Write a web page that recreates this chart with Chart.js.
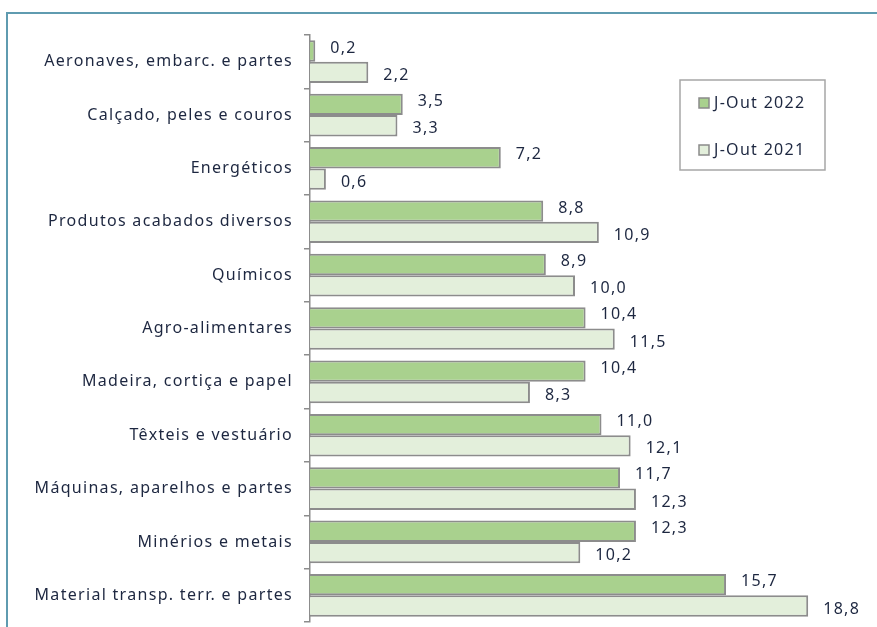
<!DOCTYPE html>
<html>
<head>
<meta charset="utf-8">
<script src="https://cdn.jsdelivr.net/npm/chart.js@4"></script>
<style>
  html, body { margin: 0; padding: 0; background: #fff; }
  #wrap { width: 877px; height: 627px; position: relative; }
</style>
</head>
<body>
<div id="wrap"><canvas id="chart" width="877" height="627"></canvas></div>
<script>
const categories = [
  'Aeronaves, embarc. e partes',
  'Calçado, peles e couros',
  'Energéticos',
  'Produtos acabados diversos',
  'Químicos',
  'Agro-alimentares',
  'Madeira, cortiça e papel',
  'Têxteis e vestuário',
  'Máquinas, aparelhos e partes',
  'Minérios e metais',
  'Material transp. terr. e partes'
];
const series2022 = [0.2, 3.5, 7.2, 8.8, 8.9, 10.4, 10.4, 11.0, 11.7, 12.3, 15.7];
const series2021 = [2.2, 3.3, 0.6, 10.9, 10.0, 11.5, 8.3, 12.1, 12.3, 10.2, 18.8];
const seriesNames = ['J-Out 2022', 'J-Out 2021'];

const FONT = '"Noto Sans", sans-serif';
const TEXT = '#1d2740';
const SPACING = '1.3px';

// frame + value labels + legend box
const extras = {
  id: 'extras',
  beforeUpdate(chart) {
    chart.ctx.letterSpacing = SPACING;
  },
  beforeDraw(chart) {
    const c = chart.ctx;
    c.letterSpacing = SPACING;
    c.save();
    c.strokeStyle = '#5f9bb0';
    c.lineWidth = 2;
    c.strokeRect(7, 13, 900, 640);
    c.restore();
  },
  afterDatasetsDraw(chart) {
    const c = chart.ctx;
    c.save();
    c.font = '16px ' + FONT;
    c.fillStyle = TEXT;
    c.textAlign = 'left';
    c.textBaseline = 'middle';
    chart.data.datasets.forEach((ds, i) => {
      chart.getDatasetMeta(i).data.forEach((bar, j) => {
        const txt = ds.data[j].toFixed(1).replace('.', ',');
        c.fillText(txt, bar.x + 15, bar.y + (i === 0 ? -3 : 3));
      });
    });

    // legend
    c.strokeStyle = '#a6a6a6';
    c.lineWidth = 1.5;
    c.strokeRect(680, 80, 145, 90);
    chart.data.datasets.forEach((ds, i) => {
      const y = 103 + i * 47;
      c.fillStyle = ds.backgroundColor;
      c.fillRect(699, y - 5, 10, 10);
      c.strokeStyle = '#8a8a8a';
      c.lineWidth = 1.5;
      c.strokeRect(699, y - 5, 10, 10);
      c.fillStyle = TEXT;
      c.fillText(ds.label, 714, y);
    });
    c.restore();
  }
};

new Chart(document.getElementById('chart'), {
  type: 'bar',
  data: {
    labels: categories,
    datasets: [
      { label: seriesNames[0], data: series2022, backgroundColor: '#a9d18e', borderColor: '#8c8c8c', borderWidth: 2 },
      { label: seriesNames[1], data: series2021, backgroundColor: '#e3efdb', borderColor: '#8c8c8c', borderWidth: 2 }
    ]
  },
  options: {
    indexAxis: 'y',
    responsive: false,
    animation: false,
    layout: { padding: { left: 0, top: 35, right: 37, bottom: 5 } },
    categoryPercentage: 0.8,
    barPercentage: 1.0,
    plugins: { legend: { display: false }, tooltip: { enabled: false } },
    scales: {
      x: { display: false, min: 0, max: 20 },
      y: {
        afterFit(scale) {
          scale.width = 310;
          scale.paddingTop = 0;
          scale.paddingBottom = 0;
        },
        grid: { drawOnChartArea: false, drawTicks: true, tickLength: 6, color: '#8c8c8c', lineWidth: 1.5 },
        border: { display: true, color: '#8c8c8c', width: 1.5 },
        ticks: { color: TEXT, font: { family: FONT, size: 16 }, padding: 11 }
      }
    }
  },
  plugins: [extras]
});
</script>
</body>
</html>
